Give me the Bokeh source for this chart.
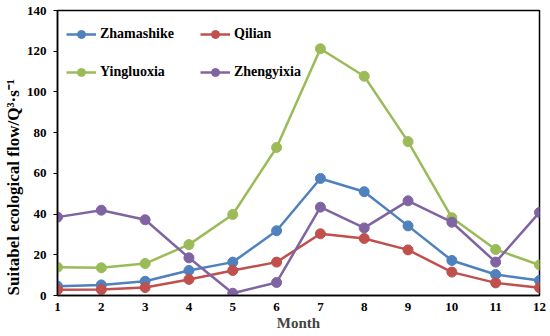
from bokeh.plotting import figure
from bokeh.models import Legend, LegendItem, Title, FixedTicker, Range1d
from bokeh.embed import file_html
from bokeh.resources import INLINE

months = [1, 2, 3, 4, 5, 6, 7, 8, 9, 10, 11, 12]
zhamashike = [4.6, 5.2, 7.0, 12.3, 16.4, 31.8, 57.5, 51.0, 34.2, 17.2, 10.3, 7.4]
qilian = [2.8, 2.9, 3.9, 7.9, 12.3, 16.4, 30.3, 28.0, 22.4, 11.5, 6.2, 3.8]
yingluoxia = [13.9, 13.6, 15.7, 25.0, 39.8, 72.7, 121.2, 107.7, 75.6, 38.2, 22.6, 15.0]
zhengyixia = [38.5, 41.9, 37.2, 18.5, 1.1, 6.4, 43.4, 33.2, 46.5, 36.0, 16.4, 40.8]
y_ticks = [0, 20, 40, 60, 80, 100, 120, 140]

series = [
    ("Zhamashike", zhamashike, "#4F81BD"),
    ("Qilian", qilian, "#C0504D"),
    ("Yingluoxia", yingluoxia, "#9BBB59"),
    ("Zhengyixia", zhengyixia, "#8064A2"),
]

FONT = "Liberation Serif"

p = figure(width=550, height=336, output_backend="svg", toolbar_location=None,
           x_range=Range1d(1, 12), y_range=Range1d(0, 140),
           min_border_left=10, min_border_right=11, min_border_top=10, min_border_bottom=41)
p.grid.visible = False
p.outline_line_color = "black"
p.outline_line_width = 1.5
p.background_fill_color = "white"
p.border_fill_color = "white"

for ax in (p.xaxis[0], p.yaxis[0]):
    ax.axis_line_color = "black"
    ax.axis_line_width = 1.5
    ax.major_label_text_font = FONT
    ax.major_label_text_font_style = "bold"
    ax.major_label_text_font_size = "13px"
    ax.major_label_text_color = "black"
    ax.minor_tick_line_color = None

p.xaxis.ticker = FixedTicker(ticks=months)
p.xaxis.major_tick_line_color = None
p.xaxis.major_tick_out = 0
p.xaxis.major_tick_in = 0
p.xaxis.major_label_standoff = 7
p.xaxis.axis_label = "Month"
p.xaxis.axis_label_text_font = FONT
p.xaxis.axis_label_text_font_style = "bold"
p.xaxis.axis_label_text_font_size = "15px"
p.xaxis.axis_label_standoff = 1

p.yaxis.ticker = FixedTicker(ticks=y_ticks)
p.yaxis.major_tick_out = 4
p.yaxis.major_tick_in = 0
p.yaxis.major_tick_line_color = "black"
p.yaxis.major_label_standoff = 7

ytitle = Title(text="Suitabel ecological flow/Q\u00b3\u00b7s\u207b\u00b9", align="left",
               offset=0, standoff=2,
               text_font=FONT, text_font_style="bold", text_font_size="17px",
               text_color="black")
p.add_layout(ytitle, "left")

renderers = {}
for name, vals, col in series:
    l = p.line(months, vals, line_color=col, line_width=2.5)
    s = p.scatter(months, vals, size=10, fill_color=col, line_color=col)
    renderers[name] = [l, s]

positions = {
    "Zhamashike": (9, 251),
    "Qilian": (143, 251),
    "Yingluoxia": (9, 213),
    "Zhengyixia": (143, 213),
}
for name, _, _ in series:
    lg = Legend(items=[LegendItem(label=name, renderers=renderers[name])],
                location=positions[name], padding=0, margin=0, spacing=0,
                glyph_width=30, glyph_height=20, label_height=20, label_standoff=4,
                border_line_color=None, background_fill_alpha=0,
                label_text_font=FONT, label_text_font_style="bold",
                label_text_font_size="14px", label_text_color="black")
    p.add_layout(lg)

open("out.html", "w").write(file_html(p, INLINE))
